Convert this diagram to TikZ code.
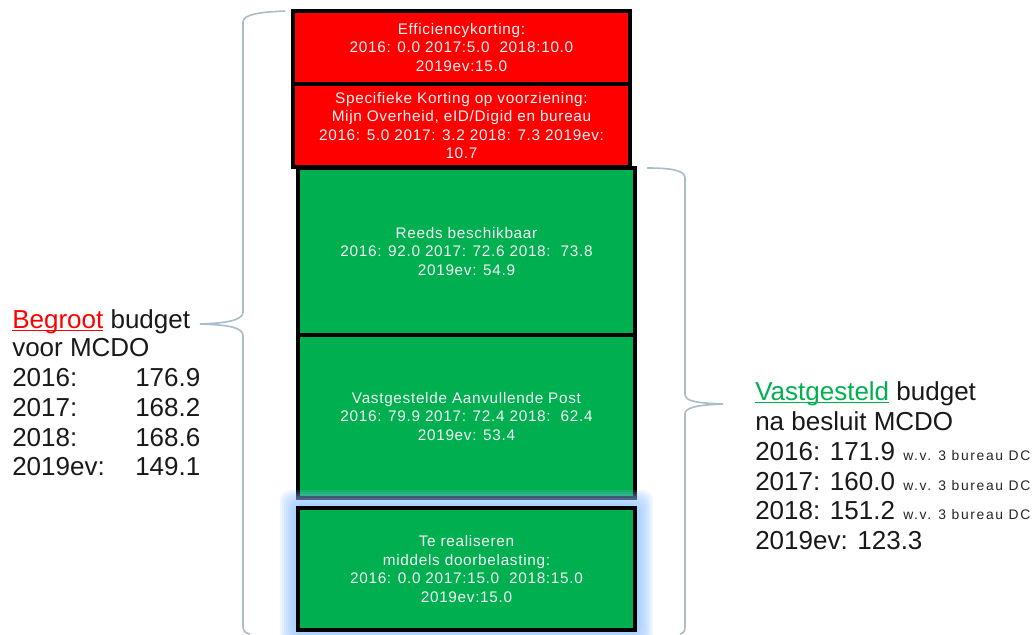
\documentclass[tikz,border=0pt]{standalone}
\usepackage{fontspec}
\setmainfont{Liberation Sans}
\newfontfamily\boxfont[LetterSpace=4.5]{Liberation Sans}
\newfontfamily\smallfont[LetterSpace=12]{Liberation Sans}
\definecolor{redbox}{HTML}{FF0000}
\definecolor{greenbox}{HTML}{00B050}
\definecolor{bracec}{HTML}{A9BCCB}
\definecolor{glowc}{HTML}{8EC3FF}
\definecolor{boxtext}{HTML}{F4F4F4}
\begin{document}
\begin{tikzpicture}[x=0.75pt,y=-0.75pt,
  blockbox/.style={draw=black,line width=2.4pt,inner sep=0pt,align=center,
    text=boxtext,minimum width=252.75pt,
    font=\boxfont\fontsize{11.5}{13.9}\selectfont},
  redblock/.style={blockbox,fill=redbox},
  greenblock/.style={blockbox,fill=greenbox},
  brace/.style={draw=bracec,line width=1.2pt},
  bigtext/.style={anchor=base west,inner sep=0pt,font=\fontsize{19.5}{22}\selectfont,text=black!90},
  smalltext/.style={anchor=base west,inner sep=0pt,font=\smallfont\fontsize{10.4}{12}\selectfont,text=black!85}]
\useasboundingbox (0,0) rectangle (1035,635);
\fill[white] (0,0) rectangle (1035,635);

% blocks
\node[redblock,minimum height=54.75pt] (eff) at (461.5,47.5)
  {Efficiencykorting:\\2016: 0.0 2017:5.0\ \ 2018:10.0\\2019ev:15.0};
\node[redblock,minimum height=62.25pt] (spec) at (461.5,125.5)
  {Specifieke Korting op voorziening:\\Mijn Overheid, eID/Digid en bureau\\2016: 5.0 2017: 3.2 2018: 7.3 2019ev:\\10.7};
\node[greenblock,minimum height=125.25pt] (reeds) at (466.5,251.5)
  {Reeds beschikbaar\\2016: 92.0 2017: 72.6 2018:\ \ 73.8\\2019ev: 54.9};
\node[greenblock,minimum height=122.25pt] (vast) at (466.5,416.5)
  {Vastgestelde Aanvullende Post\\2016: 79.9 2017: 72.4 2018:\ \ 62.4\\2019ev: 53.4};
% glow around last block
\foreach \d in {18,16,14,12,10,8,6,4,2}
  \fill[glowc,opacity=0.14,rounded corners=8pt] (298-\d,508-\d) rectangle (635+\d,630+\d);
\node[greenblock,minimum height=91.5pt] (door) at (466.5,569)
  {Te realiseren\\middels doorbelasting:\\2016: 0.0 2017:15.0\ \ 2018:15.0\\2019ev:15.0};

% left brace
\draw[brace] (285,11) .. controls (262,12) and (243,14) .. (243,22) -- (243,312)
  .. controls (243,319) and (232,323) .. (200,324)
  .. controls (232,325) and (243,328) .. (243,336) -- (243,626)
  .. controls (243,631) and (245,633) .. (250,634);
% right brace
\draw[brace] (647,168) .. controls (670,168) and (685,170) .. (685,178) -- (685,394)
  .. controls (685,401) and (695,403) .. (723,404)
  .. controls (695,405) and (685,408) .. (685,414) -- (685,626)
  .. controls (685,631) and (684,633) .. (680,634);

% left text
\node[bigtext] (l1) at (12,328) {\textcolor{redbox}{\underline{\smash{Begroot}}} budget};
\node[bigtext] (l2) at (12,356) {voor MCDO};
\node[bigtext] (l3) at (12,386) {2016:};
\node[bigtext] (l3v) at (135,386) {176.9};
\node[bigtext] (l4) at (12,416) {2017:};
\node[bigtext] (l4v) at (135,416) {168.2};
\node[bigtext] (l5) at (12,446) {2018:};
\node[bigtext] (l5v) at (135,446) {168.6};
\node[bigtext] (l6) at (12,475) {2019ev:};
\node[bigtext] (l6v) at (135,475) {149.1};

% right text
\node[bigtext] (r1) at (755,400) {\textcolor{greenbox}{\underline{\smash{Vastgesteld}}} budget};
\node[bigtext] (r2) at (755,430) {na besluit MCDO};
\node[bigtext] (r3) at (755,460) {2016: 171.9};
\node[smalltext] (r3s) at (903,460) {w.v. 3 bureau DC};
\node[bigtext] (r4) at (755,490) {2017: 160.0};
\node[smalltext] (r4s) at (903,490) {w.v. 3 bureau DC};
\node[bigtext] (r5) at (755,519) {2018: 151.2};
\node[smalltext] (r5s) at (903,519) {w.v. 3 bureau DC};
\node[bigtext] (r6) at (755,549) {2019ev: 123.3};
\end{tikzpicture}
\end{document}
